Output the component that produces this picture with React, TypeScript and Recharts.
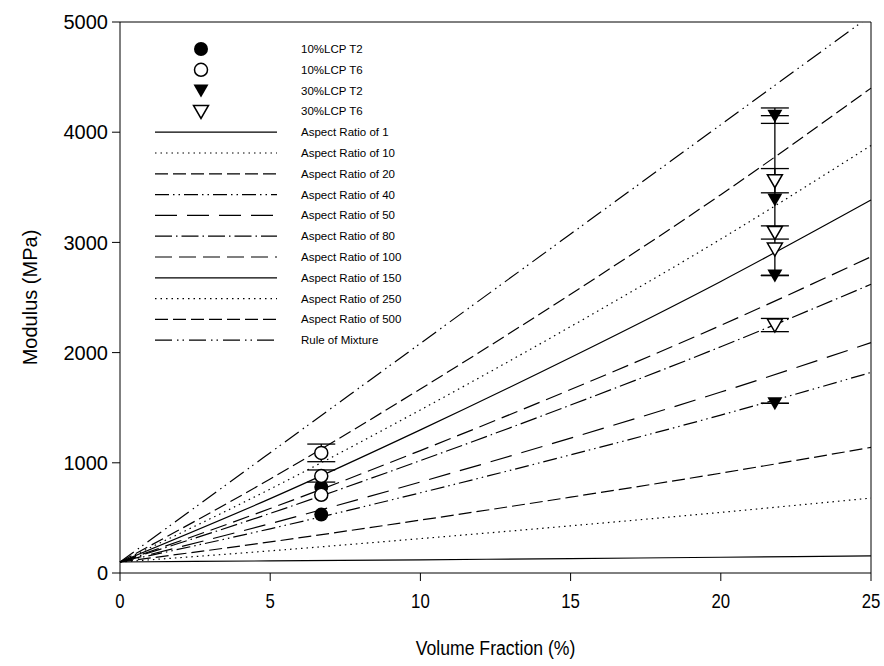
import {
  ComposedChart,
  ErrorBar,
  Line,
  ReferenceLine,
  Scatter,
  XAxis,
  YAxis,
} from "recharts";

// Volume fraction (%) where the model curves were read
const volumeFraction = [0, 5, 10, 15, 20, 25];

// Modulus (MPa) for each model curve
const aspect1 = [100, 110, 120, 131, 143, 155];
const aspect10 = [100, 201, 312, 428, 550, 680];
const aspect20 = [100, 282, 480, 688, 906, 1140];
const aspect40 = [100, 401, 728, 1072, 1433, 1820];
const aspect50 = [100, 448, 826, 1224, 1642, 2090];
const aspect80 = [100, 541, 1020, 1524, 2053, 2620];
const aspect100 = [100, 585, 1111, 1665, 2247, 2870];
const aspect150 = [100, 675, 1299, 1956, 2646, 3385];
const aspect250 = [100, 762, 1480, 2236, 3030, 3880];
const aspect500 = [100, 853, 1670, 2530, 3433, 4400];
const ruleOfMixture = [100, 1092, 2084, 3076, 4068, 5060];

// measured points
const lcp10Fraction = 6.7;
const lcp30Fraction = 21.8;
const lcp10T2 = [530, 780];
const lcp10T2Err = [0, 0];
const lcp10T6 = [1090, 880, 710];
const lcp10T6Err = [80, 55, 0];
const lcp30T2 = [4150, 3390, 2700, 1540];
const lcp30T2Err = [
  [70, 70],
  [690, 760],
  [0, 0],
  [0, 0],
];
const lcp30T6 = [3560, 3090, 2940, 2250];
const lcp30T6Err = [110, 60, 0, 60];

const xTicks = [0, 5, 10, 15, 20, 25];
const yTicks = [0, 1000, 2000, 3000, 4000, 5000];

const curves = [
  { key: "ar1", name: "Aspect Ratio of 1", values: aspect1, dash: undefined },
  { key: "ar10", name: "Aspect Ratio of 10", values: aspect10, dash: "1.5 4" },
  { key: "ar20", name: "Aspect Ratio of 20", values: aspect20, dash: "13 5" },
  { key: "ar40", name: "Aspect Ratio of 40", values: aspect40, dash: "14 4 1.5 4 1.5 4" },
  { key: "ar50", name: "Aspect Ratio of 50", values: aspect50, dash: "22 10" },
  { key: "ar80", name: "Aspect Ratio of 80", values: aspect80, dash: "17 4 1.5 4" },
  { key: "ar100", name: "Aspect Ratio of 100", values: aspect100, dash: "17 7" },
  { key: "ar150", name: "Aspect Ratio of 150", values: aspect150, dash: undefined },
  { key: "ar250", name: "Aspect Ratio of 250", values: aspect250, dash: "1.5 4" },
  { key: "ar500", name: "Aspect Ratio of 500", values: aspect500, dash: "13 5" },
  { key: "rom", name: "Rule of Mixture", values: ruleOfMixture, dash: "17 5 1.5 4 1.5 5" },
];

const tableData = volumeFraction.map((x, i) => {
  const row: Record<string, number> = { x };
  curves.forEach((c) => {
    row[c.key] = c.values[i];
  });
  return row;
});

const pointsOf = (x: number, ys: number[], errs: (number | number[])[]) =>
  ys.map((y, i) => ({ x, y, err: errs[i] }));

const font = "'Liberation Sans', Arial, sans-serif";

type Kind = "filledCircle" | "openCircle" | "filledTri" | "openTri";

function Marker({ kind, cx, cy }: { kind: Kind; cx: number; cy: number }) {
  if (kind === "filledCircle") return <circle cx={cx} cy={cy} r={7} fill="#000" />;
  if (kind === "openCircle")
    return <circle cx={cx} cy={cy} r={6.5} fill="#fff" stroke="#000" strokeWidth={1.5} />;
  const pts = `${cx - 7.5},${cy - 6} ${cx + 7.5},${cy - 6} ${cx},${cy + 7}`;
  if (kind === "filledTri") return <polygon points={pts} fill="#000" />;
  return <polygon points={pts} fill="#fff" stroke="#000" strokeWidth={1.5} />;
}

const markerShape = (kind: Kind) => (props: any) =>
  <Marker kind={kind} cx={props.cx} cy={props.cy} />;

const legendMarkers: { name: string; kind: Kind }[] = [
  { name: "10%LCP T2", kind: "filledCircle" },
  { name: "10%LCP T6", kind: "openCircle" },
  { name: "30%LCP T2", kind: "filledTri" },
  { name: "30%LCP T6", kind: "openTri" },
];

function ChartLegend() {
  const rowH = 20.8;
  return (
    <svg
      width={260}
      height={320}
      style={{ position: "absolute", left: 150, top: 38, fontFamily: font }}
    >
      {legendMarkers.map((m, i) => (
        <g key={m.name}>
          <Marker kind={m.kind} cx={51} cy={11 + i * rowH} />
          <text x={151} y={11 + i * rowH} fontSize={11.5} dominantBaseline="central">
            {m.name}
          </text>
        </g>
      ))}
      {curves.map((c, j) => {
        const y = 11 + (j + 4) * rowH;
        return (
          <g key={c.key}>
            <line x1={5} x2={127} y1={y} y2={y} stroke="#000" strokeWidth={1.2} strokeDasharray={c.dash} />
            <text x={151} y={y} fontSize={11.5} dominantBaseline="central">
              {c.name}
            </text>
          </g>
        );
      })}
    </svg>
  );
}

// narrow-looking tick text, like the original's condensed face
function NarrowTick(props: any) {
  const { x, y, payload } = props;
  return (
    <text
      transform={`translate(${x} ${y + 25}) scale(0.84 1)`}
      textAnchor="middle"
      fontSize={20}
      fill="#000"
    >
      {payload.value}
    </text>
  );
}

function XTitle(props: any) {
  const vb = props.viewBox || {};
  const cx = vb.x + vb.width / 2;
  return (
    <text
      transform={`translate(${cx} ${vb.y + 82}) scale(0.84 1)`}
      textAnchor="middle"
      fontSize={21}
      fill="#000"
    >
      Volume Fraction (%)
    </text>
  );
}

export default function App() {
  return (
    <div style={{ position: "absolute", left: 0, top: 0, width: 884, height: 666, background: "#fff" }}>
      <ComposedChart
        width={884}
        height={666}
        data={tableData}
        margin={{ top: 22, right: 13, left: 0, bottom: 0 }}
        style={{ fontFamily: font }}
      >
        <XAxis
          dataKey="x"
          type="number"
          domain={[0, 25]}
          ticks={xTicks}
          height={93}
          tickSize={8}
          tickMargin={2}
          stroke="#000"
          tick={<NarrowTick />}
          label={<XTitle />}
        />
        <YAxis
          type="number"
          domain={[0, 5000]}
          ticks={yTicks}
          allowDataOverflow
          width={120}
          tickSize={8}
          tickMargin={4}
          stroke="#000"
          tick={{ fill: "#000", fontSize: 20 }}
          label={{
            value: "Modulus (MPa)",
            angle: -90,
            position: "center",
            dx: -30,
            fill: "#000",
            fontSize: 20,
          }}
        />
        <ReferenceLine y={5000} stroke="#000" strokeWidth={1} />
        <ReferenceLine x={25} stroke="#000" strokeWidth={1} />
        {curves.map((c) => (
          <Line
            key={c.key}
            dataKey={c.key}
            type="monotone"
            stroke="#000"
            strokeWidth={1.2}
            strokeDasharray={c.dash}
            dot={false}
            activeDot={false}
            isAnimationActive={false}
          />
        ))}
        <Scatter
          data={pointsOf(lcp10Fraction, lcp10T2, lcp10T2Err)}
          dataKey="y"
          shape={markerShape("filledCircle")}
          isAnimationActive={false}
        >
          <ErrorBar dataKey="err" direction="y" width={14} stroke="#000" strokeWidth={1.3} />
        </Scatter>
        <Scatter
          data={pointsOf(lcp10Fraction, lcp10T6, lcp10T6Err)}
          dataKey="y"
          shape={markerShape("openCircle")}
          isAnimationActive={false}
        >
          <ErrorBar dataKey="err" direction="y" width={14} stroke="#000" strokeWidth={1.3} />
        </Scatter>
        <Scatter
          data={pointsOf(lcp30Fraction, lcp30T2, lcp30T2Err)}
          dataKey="y"
          shape={markerShape("filledTri")}
          isAnimationActive={false}
        >
          <ErrorBar dataKey="err" direction="y" width={14} stroke="#000" strokeWidth={1.3} />
        </Scatter>
        <Scatter
          data={pointsOf(lcp30Fraction, lcp30T6, lcp30T6Err)}
          dataKey="y"
          shape={markerShape("openTri")}
          isAnimationActive={false}
        >
          <ErrorBar dataKey="err" direction="y" width={14} stroke="#000" strokeWidth={1.3} />
        </Scatter>
      </ComposedChart>
      <ChartLegend />
    </div>
  );
}
